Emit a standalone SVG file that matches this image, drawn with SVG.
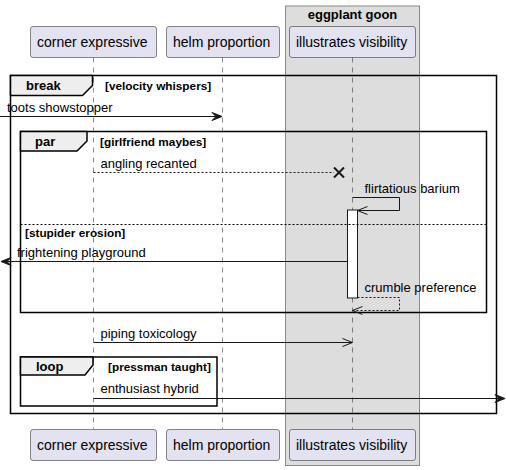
<svg xmlns="http://www.w3.org/2000/svg" width="506" height="470" viewBox="0 0 506 470">
<defs>
<style>
.pbox{fill:#E2E2F0;stroke:#181818;stroke-width:0.5}
.ptxt{font-family:"Liberation Sans",Arial,sans-serif;font-size:14px;fill:#000}
.life{stroke:#181818;stroke-width:0.5;stroke-dasharray:5,5;fill:none}
.frame{fill:none;stroke:#000;stroke-width:1.5}
.tab{fill:#EEEEEE;stroke:#000;stroke-width:1.5}
.tabtxt{font-family:"Liberation Sans",Arial,sans-serif;font-size:13px;font-weight:bold;fill:#000}
.cond{font-family:"Liberation Sans",Arial,sans-serif;font-size:11.8px;font-weight:bold;fill:#000}
.msg{stroke:#181818;stroke-width:1;fill:none}
.dash{stroke-dasharray:2,2}
.mtxt{font-family:"Liberation Sans",Arial,sans-serif;font-size:13px;fill:#000}
.head{fill:#181818;stroke:#181818;stroke-width:1}
.sep{stroke:#000;stroke-width:1;stroke-dasharray:2,2;fill:none}
</style>
</defs>
<rect width="506" height="470" fill="#FFFFFF"/>
<g id="box-eggplant-goon">
<rect x="285.5" y="6" width="134" height="459.5" fill="#DDDDDD" stroke="#8A8A8A" stroke-width="1"/>
<text x="352.5" y="19" text-anchor="middle" class="tabtxt">eggplant goon</text>
</g>
<g id="lifelines">
<line class="life" x1="93.5" y1="57.5" x2="93.5" y2="429"/>
<line class="life" x1="222.5" y1="57.5" x2="222.5" y2="429"/>
<line class="life" x1="352.5" y1="57.5" x2="352.5" y2="429"/>
</g>
<g id="corner-expressive">
<rect class="pbox" x="30.5" y="26.5" width="126" height="31" rx="2.5"/>
<text class="ptxt" x="37" y="47">corner expressive</text>
<rect class="pbox" x="30.5" y="429.5" width="126" height="31" rx="2.5"/>
<text class="ptxt" x="37" y="450">corner expressive</text>
</g>
<g id="helm-proportion">
<rect class="pbox" x="166.5" y="26.5" width="113" height="31" rx="2.5"/>
<text class="ptxt" x="173" y="47">helm proportion</text>
<rect class="pbox" x="166.5" y="429.5" width="113" height="31" rx="2.5"/>
<text class="ptxt" x="173" y="450">helm proportion</text>
</g>
<g id="illustrates-visibility">
<rect class="pbox" x="289.5" y="26.5" width="126" height="31" rx="2.5"/>
<text class="ptxt" x="296" y="47">illustrates visibility</text>
<rect class="pbox" x="289.5" y="429.5" width="126" height="31" rx="2.5"/>
<text class="ptxt" x="296" y="450">illustrates visibility</text>
</g>
<g id="activation">
<rect x="347.5" y="210" width="10" height="88" fill="#FFFFFF" stroke="#181818" stroke-width="1"/>
</g>
<g id="frames">
<rect class="frame" x="10.5" y="75.5" width="486" height="338"/>
<polygon class="tab" points="10.5,75.5 92.5,75.5 92.5,85.5 82.5,95.5 10.5,95.5"/>
<text class="tabtxt" x="26" y="90">break</text>
<text class="cond" x="105" y="90">[velocity whispers]</text>
<rect class="frame" x="20.5" y="131.5" width="466" height="181"/>
<polygon class="tab" points="20.5,131.5 87,131.5 87,141 77,151 20.5,151"/>
<text class="tabtxt" x="35" y="146">par</text>
<text class="cond" x="100" y="146">[girlfriend maybes]</text>
<line class="sep" x1="20.5" y1="224.5" x2="486.5" y2="224.5"/>
<text class="cond" x="25" y="237">[stupider erosion]</text>
<rect class="frame" x="20.5" y="357" width="196.5" height="49"/>
<polygon class="tab" points="20.5,357 93,357 93,365 85,375 20.5,375"/>
<text class="tabtxt" x="36" y="371">loop</text>
<text class="cond" x="108" y="371">[pressman taught]</text>
</g>
<g id="connectors">
<line class="msg" x1="0" y1="116.5" x2="221" y2="116.5"/>
<polygon class="head" points="212,112.5 222,116.5 212,120.5 216,116.5"/>
<text class="mtxt" x="7" y="111.5">toots showstopper</text>
<line class="msg dash" x1="93.5" y1="172.5" x2="334" y2="172.5"/>
<path d="M334,167.5 L344,177.5 M334,177.5 L344,167.5" stroke="#181818" stroke-width="2" fill="none"/>
<text class="mtxt" x="100.5" y="167.5">angling recanted</text>
<polyline class="msg" points="352.5,197.5 399.5,197.5 399.5,210.5 357.5,210.5"/>
<path class="msg" d="M367.5,206.5 L357.5,210.5 L367.5,214.5"/>
<text class="mtxt" x="364.5" y="193">flirtatious barium</text>
<line class="msg" x1="347.5" y1="261.5" x2="2" y2="261.5"/>
<polygon class="head" points="11,257.5 1,261.5 11,265.5 7,261.5"/>
<text class="mtxt" x="17" y="257">frightening playground</text>
<polyline class="msg dash" points="357.5,297.5 399.5,297.5 399.5,310.5 352.5,310.5"/>
<path class="msg" d="M362.5,306.5 L352.5,310.5 L362.5,314.5"/>
<text class="mtxt" x="364.5" y="292">crumble preference</text>
<line class="msg" x1="93.5" y1="342.5" x2="352" y2="342.5"/>
<path class="msg" d="M342.5,338.5 L352.5,342.5 L342.5,346.5"/>
<text class="mtxt" x="100.5" y="337.5">piping toxicology</text>
<line class="msg" x1="93.5" y1="398.5" x2="504" y2="398.5"/>
<polygon class="head" points="495,394.5 505,398.5 495,402.5 499,398.5"/>
<text class="mtxt" x="100.5" y="392.5">enthusiast hybrid</text>
</g>
</svg>
